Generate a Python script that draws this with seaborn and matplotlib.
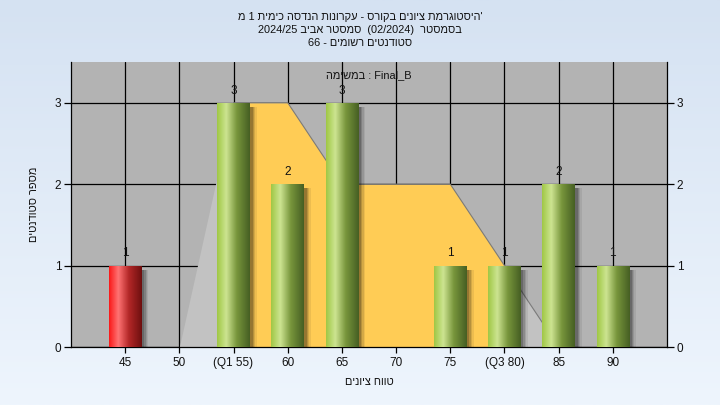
import numpy as np
import pandas as pd
import matplotlib
matplotlib.use("Agg")
import matplotlib.pyplot as plt
import seaborn as sns
from matplotlib.patches import Rectangle

# ---------------- data ----------------
grades = ["45", "50", "55", "60", "65", "70", "75", "80", "85", "90"]
tick_labels = ["45", "50", "(Q1 55)", "60", "65", "70", "75", "(Q3 80)", "85", "90"]
counts = [1, 0, 3, 2, 3, 0, 1, 1, 2, 1]
curve = [0, 0, 3, 3, 2, 2, 2, 1, 0, 0]
fail_grades = ["45"]
q1_grade, q3_grade = "55", "80"
y_ticks = [0, 1, 2, 3]

title_1 = "היסטוגרמת ציונים בקורס - עקרונות הנדסה כימית 1 מ"
title_2 = "בסמסטר  (02/2024)  סמסטר אביב 2024/25"
title_3 = "סטודנטים רשומים - 66"
task_word = "במשימה"
task_name = "Final_B"
x_label = "טווח ציונים"
y_label = "מספר סטודנטים"


def rtl(s):
    """visual order for a right-to-left string (matplotlib has no bidi)"""
    def heb(t):
        return any('\u0590' <= c <= '\u05ff' for c in t)
    toks = s.split(' ')
    return ' '.join(t[::-1] if heb(t) else t for t in reversed(toks))


sns.set_theme(style="white")
FONT = ["Liberation Sans", "DejaVu Sans"]
plt.rcParams['font.family'] = FONT
plt.rcParams['font.size'] = 8.5
HEB = 7.9
TXT = "#111111"

W, H = 720, 405
fig = plt.figure(figsize=(W / 100, H / 100), dpi=100)

# background gradient
bg = fig.add_axes([0, 0, 1, 1], zorder=-10)
grad = np.linspace(0, 1, 256).reshape(-1, 1)
top_c = np.array([213, 226, 242]) / 255
bot_c = np.array([238, 245, 253]) / 255
img = top_c[None, None, :] * (1 - grad[:, :, None]) + bot_c[None, None, :] * grad[:, :, None]
bg.imshow(img, aspect='auto', extent=[0, 1, 0, 1])
bg.set_axis_off()

L, R, T, B = 71, 667, 62, 347
ax = fig.add_axes([L / W, 1 - B / H, (R - L) / W, (B - T) / H])
ax.set_zorder(1)
ax.set_facecolor("#b3b3b3")

xpos = np.arange(len(grades))
i1, i3 = grades.index(q1_grade), grades.index(q3_grade)
curve = np.array(curve, dtype=float)

# distribution area: light grey, orange between Q1 and Q3
nz = np.nonzero(curve)[0]
a0, a1 = max(nz[0] - 1, 0), min(nz[-1] + 1, len(grades) - 1)
ax.fill_between(xpos[a0:a1 + 1], 0, curve[a0:a1 + 1], color="#c2c2c2", lw=0, zorder=1)
ax.fill_between(xpos[i1:i3 + 1], 0, curve[i1:i3 + 1], color="#ffcc55", lw=0, zorder=1.1)
ax.plot(xpos[i1:a1 + 1], curve[i1:a1 + 1], color="#7a7a7a", lw=0.8, zorder=1.2)

# bars
df = pd.DataFrame({"grade": grades, "count": counts})
sns.barplot(data=df, x="grade", y="count", order=grades, width=0.6,
            color="#9cc24a", ax=ax, zorder=3)

green = [(0.0, (160, 200, 70)), (0.28, (205, 228, 145)), (0.6, (120, 150, 60)), (1.0, (70, 95, 35))]
red = [(0.0, (250, 25, 25)), (0.28, (255, 115, 115)), (0.6, (180, 40, 40)), (1.0, (110, 15, 15))]


def make_grad(stops, n=64):
    xs = np.linspace(0, 1, n)
    pos = [s[0] for s in stops]
    cols = np.array([s[1] for s in stops]) / 255
    out = np.stack([np.interp(xs, pos, cols[:, k]) for k in range(3)], axis=-1)
    return out[None, :, :]


for g, patch in zip(grades, ax.patches):
    h = patch.get_height()
    if h <= 0:
        patch.set_visible(False)
        continue
    x0, w = patch.get_x(), patch.get_width()
    # soft shadow
    for dx, a in [(0.13, 0.07), (0.10, 0.10), (0.075, 0.14), (0.05, 0.18)]:
        ax.add_patch(Rectangle((x0 + dx, 0), w, h - 0.05, color="black", alpha=a,
                               lw=0, zorder=2.5))
    stops = red if g in fail_grades else green
    im = ax.imshow(make_grad(stops), extent=[x0, x0 + w, 0, h], aspect='auto',
                   zorder=3.2, interpolation='bilinear')
    im.set_clip_path(patch)
    patch.set_facecolor("none")
    patch.set_edgecolor("none")
    ax.text(x0 + w / 2, h + 0.15, f"{h:g}", ha='center', va='center',
            fontsize=8.5, color=TXT, zorder=5)

ax.set_xlim(-1, len(grades))
ax.set_ylim(0, 3.5)
ax.set_xticks(xpos)
ax.set_xticklabels(tick_labels)
ax.set_yticks(y_ticks)
ax.set_yticklabels([str(v) for v in y_ticks])
ax.grid(True, color="black", lw=0.9)
ax.set_axisbelow(True)
ax.tick_params(axis='y', left=True, right=True, labelleft=True, labelright=True,
               direction='out', length=5, width=0.9, color='black', pad=2,
               labelsize=8.5, labelcolor=TXT)
ax.tick_params(axis='x', bottom=True, direction='out', length=4, width=0.9,
               color='black', pad=3, labelsize=8.5, labelcolor=TXT)
for s in ["left", "right", "bottom"]:
    ax.spines[s].set_visible(True)
    ax.spines[s].set_color("black")
    ax.spines[s].set_linewidth(0.9)
ax.spines["top"].set_visible(False)
ax.set_xlabel(rtl(x_label), fontsize=HEB, labelpad=6, color=TXT)
ax.set_ylabel(rtl(y_label), fontsize=HEB, labelpad=11, color=TXT)
ax.text(0.5, 0.953, rtl(task_word) + " : " + task_name, transform=ax.transAxes,
        ha='center', va='center', fontsize=HEB, color=TXT, zorder=6)

fig.text(0.5, 1 - 17 / H, rtl(title_1) + "'", ha='center', va='center', fontsize=HEB, color=TXT)
fig.text(0.5, 1 - 30 / H, rtl(title_2), ha='center', va='center', fontsize=HEB, color=TXT)
fig.text(0.5, 1 - 43 / H, rtl(title_3), ha='center', va='center', fontsize=HEB, color=TXT)

fig.savefig("out.png", dpi=100)
